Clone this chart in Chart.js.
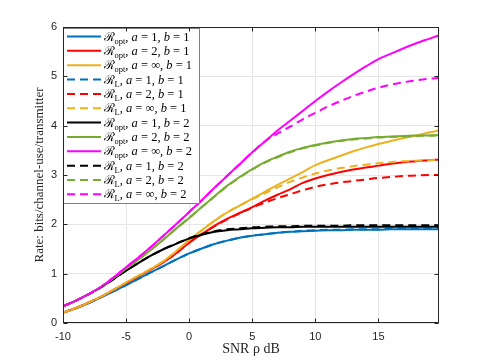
<!DOCTYPE html>
<html>
<head>
<meta charset="utf-8">
<script src="https://cdn.jsdelivr.net/npm/chart.js@4.4.0/dist/chart.umd.min.js"></script>
<style>
  html, body { margin: 0; padding: 0; background: #fff; }
  #wrap { width: 485px; height: 363px; }
</style>
</head>
<body>
<div id="wrap"><canvas id="rateChart"></canvas></div>
<script>
// SNR in dB (x axis)
const snrDb = [-10, -9, -8, -7, -6, -5, -4, -3, -2, -1, 0, 1, 2, 3, 4, 5, 6, 7, 8, 9,
    10, 11, 12, 13, 14, 15, 16, 17, 18, 19, 19.8];
const xTicks = [-10, -5, 0, 5, 10, 15];
const yTicks = [0, 1, 2, 3, 4, 5, 6];

// R_opt and R_L
const optA1B1 = [0.21, 0.30, 0.40, 0.52, 0.64, 0.77, 0.90, 1.03, 1.16, 1.29,
    1.41, 1.51, 1.60, 1.67, 1.73, 1.77, 1.80, 1.83, 1.85, 1.86,
    1.87, 1.88, 1.88, 1.89, 1.89, 1.89, 1.90, 1.90, 1.90, 1.90, 1.90];
const optA2B1 = [0.21, 0.30, 0.41, 0.53, 0.67, 0.81, 0.95, 1.09, 1.24, 1.42,
    1.63, 1.80, 1.97, 2.11, 2.23, 2.35, 2.48, 2.60, 2.71, 2.84,
    2.93, 3.00, 3.06, 3.11, 3.15, 3.19, 3.23, 3.26, 3.28, 3.30, 3.31];
const optAinfB1 = [0.21, 0.30, 0.41, 0.53, 0.67, 0.82, 0.96, 1.10, 1.26, 1.46,
    1.68, 1.88, 2.07, 2.24, 2.38, 2.52, 2.66, 2.80, 2.93, 3.06,
    3.20, 3.30, 3.39, 3.48, 3.56, 3.63, 3.69, 3.75, 3.80, 3.86, 3.90];
const lA1B1 = [0.21, 0.30, 0.40, 0.52, 0.64, 0.77, 0.90, 1.03, 1.16, 1.29,
    1.41, 1.51, 1.60, 1.67, 1.73, 1.77, 1.80, 1.83, 1.85, 1.87,
    1.88, 1.89, 1.89, 1.90, 1.90, 1.90, 1.91, 1.91, 1.91, 1.91, 1.92];
const lA2B1 = [0.21, 0.30, 0.41, 0.53, 0.67, 0.81, 0.95, 1.09, 1.24, 1.42,
    1.63, 1.80, 1.96, 2.10, 2.22, 2.34, 2.44, 2.53, 2.61, 2.69,
    2.76, 2.81, 2.85, 2.88, 2.91, 2.94, 2.96, 2.98, 2.99, 3.00, 3.00];
const lAinfB1 = [0.21, 0.30, 0.41, 0.53, 0.67, 0.82, 0.96, 1.10, 1.26, 1.46,
    1.68, 1.88, 2.07, 2.24, 2.38, 2.51, 2.63, 2.75, 2.86, 2.95,
    3.03, 3.09, 3.14, 3.18, 3.21, 3.24, 3.26, 3.28, 3.29, 3.30, 3.31];
const optA1B2 = [0.34, 0.45, 0.58, 0.72, 0.89, 1.06, 1.22, 1.37, 1.50, 1.61,
    1.71, 1.79, 1.85, 1.88, 1.90, 1.92, 1.93, 1.94, 1.94, 1.95,
    1.95, 1.95, 1.95, 1.95, 1.95, 1.95, 1.95, 1.95, 1.95, 1.95, 1.95];
const optA2B2 = [0.34, 0.45, 0.58, 0.73, 0.91, 1.10, 1.29, 1.49, 1.70, 1.92,
    2.13, 2.35, 2.57, 2.78, 2.96, 3.12, 3.26, 3.37, 3.47, 3.55,
    3.61, 3.66, 3.70, 3.73, 3.75, 3.77, 3.78, 3.79, 3.80, 3.80, 3.81];
const optAinfB2 = [0.34, 0.45, 0.58, 0.73, 0.92, 1.13, 1.33, 1.55, 1.78, 2.01,
    2.25, 2.49, 2.74, 2.98, 3.22, 3.46, 3.68, 3.90, 4.10, 4.30,
    4.50, 4.69, 4.87, 5.04, 5.20, 5.35, 5.46, 5.57, 5.67, 5.76, 5.83];
const lA1B2 = [0.34, 0.45, 0.58, 0.72, 0.89, 1.06, 1.22, 1.37, 1.50, 1.61,
    1.72, 1.80, 1.86, 1.90, 1.92, 1.94, 1.95, 1.96, 1.96, 1.97,
    1.97, 1.97, 1.97, 1.98, 1.98, 1.98, 1.98, 1.98, 1.98, 1.98, 1.98];
const lA2B2 = [0.34, 0.45, 0.58, 0.73, 0.91, 1.10, 1.29, 1.49, 1.70, 1.92,
    2.13, 2.35, 2.56, 2.77, 2.95, 3.11, 3.25, 3.36, 3.46, 3.54,
    3.60, 3.65, 3.69, 3.72, 3.74, 3.76, 3.77, 3.78, 3.79, 3.80, 3.80];
const lAinfB2 = [0.34, 0.45, 0.58, 0.73, 0.92, 1.13, 1.33, 1.55, 1.78, 2.01,
    2.25, 2.49, 2.74, 2.98, 3.22, 3.46, 3.68, 3.84, 3.98, 4.13,
    4.26, 4.39, 4.50, 4.60, 4.69, 4.77, 4.83, 4.88, 4.92, 4.95, 4.97];

// legend order and label parts
const seriesValues = [optA1B1, optA2B1, optAinfB1, lA1B1, lA2B1, lAinfB1,
    optA1B2, optA2B2, optAinfB2, lA1B2, lA2B2, lAinfB2];
const legendSub = ['opt', 'opt', 'opt', 'L', 'L', 'L', 'opt', 'opt', 'opt', 'L', 'L', 'L'];
const legendA = ['1', '2', '\u221E', '1', '2', '\u221E', '1', '2', '\u221E', '1', '2', '\u221E'];
const legendB = ['1', '1', '1', '1', '1', '1', '2', '2', '2', '2', '2', '2'];
const seriesColors = ['#0072BD', '#FF0000', '#EDB120', '#0072BD', '#FF0000', '#EDB120',
    '#000000', '#77AC30', '#FF00FF', '#000000', '#77AC30', '#FF00FF'];
const seriesDashed = [false, false, false, true, true, true, false, false, false, true, true, true];

const serif = '"Liberation Serif", "DejaVu Serif", serif';
const axisGrey = '#262626';

function drawMathLabel(ctx, x, y, sub, a, b) {
    const main = '12.5px ' + serif;
    const ital = 'italic 12.5px ' + serif;
    const parts = [
        ['\u211B', main, 0],
        [sub, '8.5px ' + serif, 3],
        [', ', main, 0],
        ['a', ital, 0],
        [' = ', main, 0],
        [a, main, 0],
        [', ', main, 0],
        ['b', ital, 0],
        [' = ', main, 0],
        [b, main, 0]
    ];
    ctx.fillStyle = '#000';
    ctx.textAlign = 'left';
    ctx.textBaseline = 'alphabetic';
    parts.forEach(p => {
        ctx.font = p[1];
        ctx.fillText(p[0], x, y + p[2]);
        x += ctx.measureText(p[0]).width;
    });
}

// MATLAB-like legend in the top left corner of the axes
const boxLegend = {
    id: 'boxLegend',
    afterDatasetsDraw(chart) {
        const ctx = chart.ctx;
        const area = chart.chartArea;
        const x0 = Math.round(area.left) + 0.5;
        const y0 = Math.round(area.top) + 1.5;
        const w = 136, h = 175, rowH = 14.35;
        ctx.save();
        ctx.fillStyle = '#fff';
        ctx.fillRect(x0, y0, w, h);
        ctx.strokeStyle = '#808080';
        ctx.lineWidth = 1;
        ctx.strokeRect(x0, y0, w, h);
        chart.data.datasets.forEach((ds, i) => {
            const cy = y0 + 8 + i * rowH;
            ctx.strokeStyle = ds.borderColor;
            ctx.lineWidth = 2;
            ctx.setLineDash(ds.borderDash);
            ctx.beginPath();
            ctx.moveTo(x0 + 3.5, cy);
            ctx.lineTo(x0 + 37.5, cy);
            ctx.stroke();
            ctx.setLineDash([]);
            drawMathLabel(ctx, x0 + 40, cy + 4, legendSub[i], legendA[i], legendB[i]);
        });
        ctx.restore();
    }
};

// axes box with inward ticks on all four sides
const axesBox = {
    id: 'axesBox',
    afterDraw(chart) {
        const ctx = chart.ctx;
        const a = chart.chartArea;
        const xs = chart.scales.x, ys = chart.scales.y;
        const L = Math.round(a.left) + 0.5, R = Math.round(a.right) - 0.5;
        const T = Math.round(a.top) + 0.5, B = Math.round(a.bottom) - 0.5;
        const len = 4;
        ctx.save();
        ctx.strokeStyle = axisGrey;
        ctx.lineWidth = 1;
        ctx.strokeRect(L, T, R - L, B - T);
        ctx.beginPath();
        xTicks.forEach(v => {
            const px = Math.round(xs.getPixelForValue(v)) + 0.5;
            ctx.moveTo(px, B); ctx.lineTo(px, B - len);
            ctx.moveTo(px, T); ctx.lineTo(px, T + len);
        });
        yTicks.forEach(v => {
            const py = Math.round(ys.getPixelForValue(v)) + 0.5;
            ctx.moveTo(L, py); ctx.lineTo(L + len, py);
            ctx.moveTo(R, py); ctx.lineTo(R - len, py);
        });
        ctx.stroke();
        ctx.restore();
    }
};

let datasets = seriesValues.map((vals, i) => ({
    label: i,
    data: vals.map((v, k) => ({ x: snrDb[k], y: v })),
    borderColor: seriesColors[i],
    backgroundColor: seriesColors[i],
    borderWidth: 2,
    borderDash: seriesDashed[i] ? [8, 5] : [],
    pointRadius: 0,
    tension: 0.4,
    cubicInterpolationMode: 'monotone',
    fill: false,
    order: seriesValues.length - i
}));

let ctx = document.getElementById('rateChart').getContext('2d');
let rateChart = new Chart(ctx, {
    type: 'line',
    data: { datasets: datasets },
    options: {
        responsive: true,
        maintainAspectRatio: false,
        animation: false,
        devicePixelRatio: 1,
        layout: { padding: { top: 27, right: 46, left: 0, bottom: 0 } },
        scales: {
            x: {
                type: 'linear',
                min: -10,
                max: 19.8,
                afterBuildTicks: scale => { scale.ticks = xTicks.map(v => ({ value: v })); },
                afterFit: scale => { scale.height = 40; },
                grid: { color: '#e6e6e6', lineWidth: 1, drawTicks: false },
                border: { display: false },
                ticks: {
                    padding: 7,
                    maxRotation: 0,
                    color: axisGrey,
                    font: { family: '"Liberation Sans", Arial, sans-serif', size: 11 }
                },
                title: {
                    display: true,
                    text: 'SNR \u03C1 dB',
                    color: axisGrey,
                    padding: { top: 0, bottom: 5.6 },
                    font: { family: serif, size: 14, lineHeight: 1.2 }
                }
            },
            y: {
                min: 0,
                max: 6,
                afterBuildTicks: scale => { scale.ticks = yTicks.map(v => ({ value: v })); },
                afterFit: scale => { scale.width = 63; },
                grid: { color: '#e6e6e6', lineWidth: 1, drawTicks: false },
                border: { display: false },
                ticks: {
                    padding: 6,
                    color: axisGrey,
                    font: { family: '"Liberation Sans", Arial, sans-serif', size: 11 }
                },
                title: {
                    display: true,
                    text: 'Rate: bits/channel-use/transmitter',
                    color: axisGrey,
                    padding: { top: 32, bottom: 0 },
                    font: { family: serif, size: 13, lineHeight: 1.2 }
                }
            }
        },
        plugins: {
            legend: { display: false },
            tooltip: { enabled: false }
        }
    },
    plugins: [boxLegend, axesBox]
});
</script>
</body>
</html>
